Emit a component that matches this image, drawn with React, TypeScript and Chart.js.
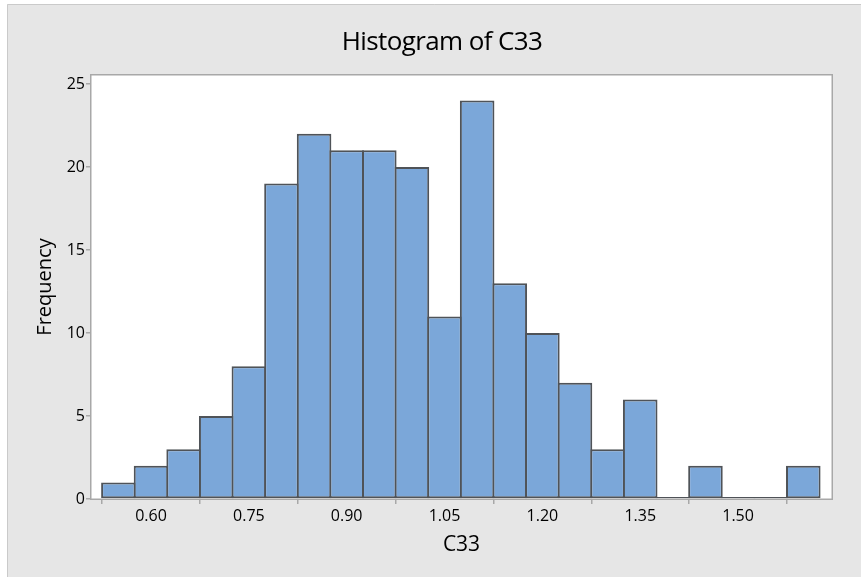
import React, { useEffect, useRef } from "react";
import { Chart, registerables } from "chart.js";

Chart.register(...registerables);

// ---- data ----
const binMids = [0.55, 0.6, 0.65, 0.7, 0.75, 0.8, 0.85, 0.9, 0.95, 1.0, 1.05, 1.1, 1.15, 1.2, 1.25, 1.3, 1.35, 1.4, 1.45, 1.5, 1.55, 1.6];
const frequencies = [1, 2, 3, 5, 8, 19, 22, 21, 21, 20, 11, 24, 13, 10, 7, 3, 6, 0, 2, 0, 0, 2];
const xTickValues = [0.6, 0.75, 0.9, 1.05, 1.2, 1.35, 1.5];
const yTickValues = [0, 5, 10, 15, 20, 25];
const chartTitle = "Histogram of C33";
const xTitle = "C33";
const yTitle = "Frequency";

const FONT = '"Open Sans", "DejaVu Sans", sans-serif';

const bgPlugin = {
  id: "minitabBg",
  beforeDraw(chart: any) {
    const { ctx, width, height, chartArea: a } = chart;
    ctx.save();
    ctx.fillStyle = "#ffffff";
    ctx.fillRect(0, 0, width, height);
    ctx.fillStyle = "#e6e6e6";
    ctx.fillRect(7, 4, width - 7, height - 4);
    ctx.strokeStyle = "#cacaca";
    ctx.lineWidth = 1;
    ctx.beginPath();
    ctx.moveTo(7.5, height);
    ctx.lineTo(7.5, 4.5);
    ctx.lineTo(width, 4.5);
    ctx.stroke();
    ctx.fillStyle = "#ffffff";
    ctx.fillRect(a.left, a.top, a.right - a.left, a.bottom - a.top);
    ctx.strokeStyle = "#a8a8a8";
    ctx.lineWidth = 1.5;
    ctx.strokeRect(a.left - 0.25, a.top - 0.25, a.right - a.left + 0.5, a.bottom - a.top + 0.5);
    // title
    ctx.fillStyle = "#000000";
    ctx.font = `26px ${FONT}`;
    ctx.textAlign = "center";
    ctx.textBaseline = "middle";
    try { (ctx as any).letterSpacing = "-0.6px"; } catch (e) {}
    ctx.fillText(chartTitle, 442, 43);
    try { (ctx as any).letterSpacing = "0px"; } catch (e) {}
    ctx.restore();
  },
};

export default function App() {
  const ref = useRef<HTMLCanvasElement | null>(null);
  useEffect(() => {
    if (!ref.current) return;
    const chart = new Chart(ref.current, {
      type: "bar",
      data: {
        datasets: [
          {
            data: binMids.map((x, i) => ({ x, y: frequencies[i] })),
            backgroundColor: "#7ba7d9",
            borderColor: "#4f5358",
            borderWidth: 2,
            borderSkipped: false,
            barPercentage: 1.06,
            categoryPercentage: 1,
            minBarLength: 2,
          } as any,
        ],
      },
      plugins: [bgPlugin],
      options: {
        animation: false,
        responsive: false,
        devicePixelRatio: 1,
        layout: { padding: { top: 75, right: 29, left: 0, bottom: 0 } },
        plugins: {
          legend: { display: false },
          tooltip: { enabled: false },
          title: { display: false },
        },
        scales: {
          x: {
            type: "linear",
            offset: false,
            min: 0.508,
            max: 1.644,
            afterFit(scale: any) {
              scale.height = 78;
            },
            afterBuildTicks(scale: any) {
              scale.ticks = xTickValues.map((v) => ({ value: v }));
            },
            ticks: {
              autoSkip: false,
              maxRotation: 0,
              padding: 3,
              color: "#000",
              font: { family: FONT, size: 16 },
              callback: (v: any) => Number(v).toFixed(2),
            },
            grid: { drawOnChartArea: false, drawTicks: true, tickLength: 5, color: "#a8a8a8", lineWidth: 1.5 },
            border: { display: false },
            title: {
              display: true,
              text: xTitle,
              color: "#000",
              font: { family: FONT, size: 21 },
              padding: { top: 0, bottom: 19 },
            },
          },
          y: {
            min: 0,
            max: 25.54,
            afterFit(scale: any) {
              scale.width = 91;
            },
            afterBuildTicks(scale: any) {
              scale.ticks = yTickValues.map((v) => ({ value: v }));
            },
            ticks: {
              padding: 1,
              color: "#000",
              font: { family: FONT, size: 16 },
            },
            grid: { drawOnChartArea: false, drawTicks: true, tickLength: 5, color: "#a8a8a8", lineWidth: 1.5 },
            border: { display: false },
            title: {
              display: true,
              text: yTitle,
              color: "#000",
              font: { family: FONT, size: 20 },
              padding: { top: 33, bottom: 0 },
            },
          },
        },
      } as any,
    });
    return () => chart.destroy();
  }, []);
  return (
    <div style={{ position: "absolute", left: 0, top: 0 }}>
      <canvas ref={ref} width={861} height={577} style={{ display: "block", width: 861, height: 577 }} />
    </div>
  );
}
